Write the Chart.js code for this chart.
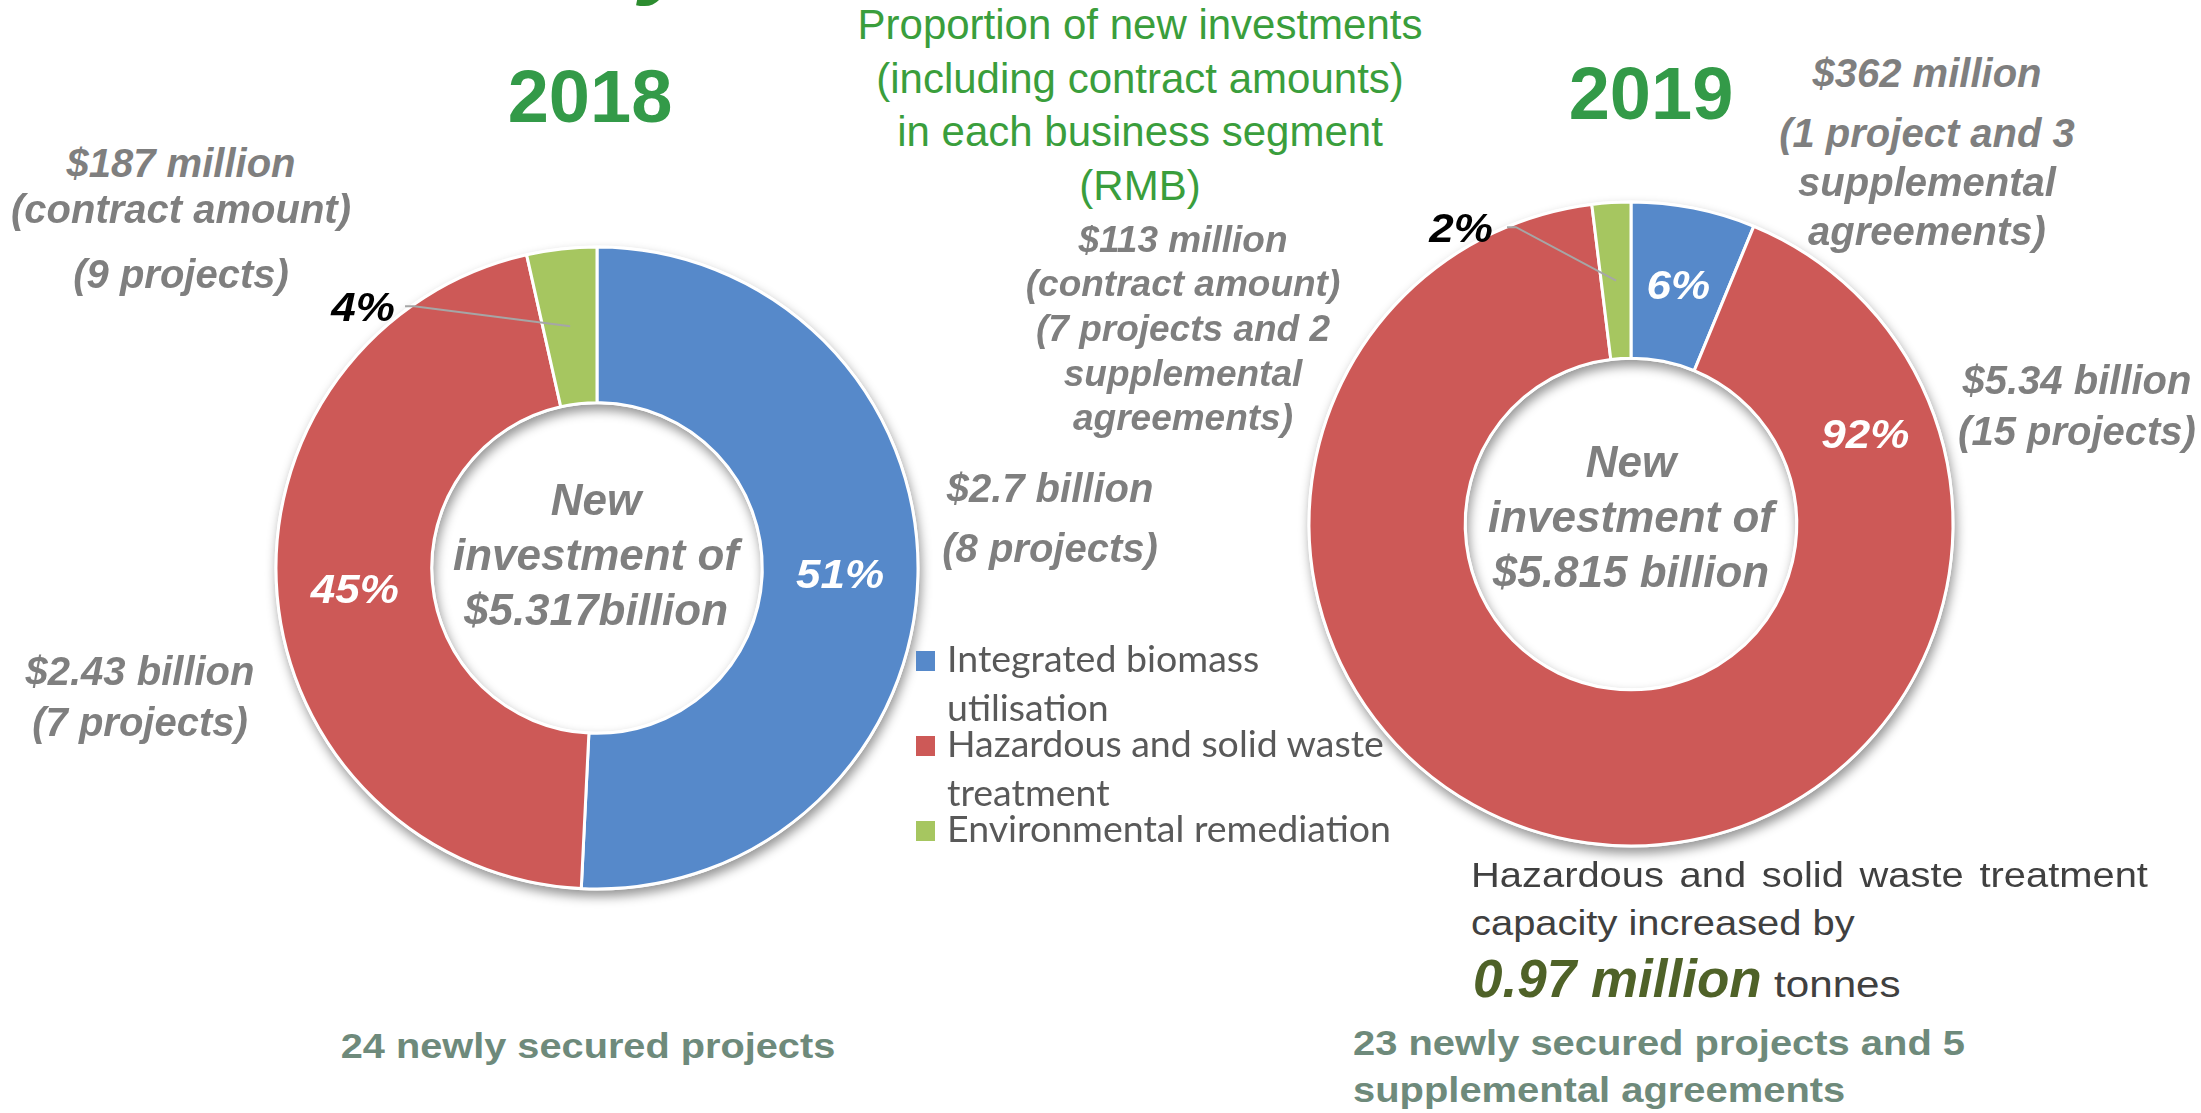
<!DOCTYPE html>
<html>
<head>
<meta charset="utf-8">
<script src="https://cdn.jsdelivr.net/npm/chart.js@4.4.1/dist/chart.umd.min.js"></script>
<style>
  html, body { margin: 0; padding: 0; background: #fff; }
  #stage { position: relative; width: 2201px; height: 1113px; overflow: hidden;
           font-family: "Liberation Sans", Arial, sans-serif; }
  #stage canvas { position: absolute; }
  .t { position: absolute; white-space: nowrap; line-height: 1; z-index: 2; }
  .sq { position: absolute; width: 19px; height: 20px; z-index: 2; }
</style>
</head>
<body>
<div id="stage">
  <canvas id="c2018" width="720" height="720" style="left:237px;top:208px"></canvas>
  <canvas id="c2019" width="720" height="720" style="left:1271px;top:164px"></canvas>
</div>
<script>
// business segments, same order in both years
const segments = ['Integrated biomass utilisation', 'Hazardous and solid waste treatment', 'Environmental remediation'];
const segmentColors = ['#5689CA', '#CD5957', '#A6C660'];

// new investment, RMB billion
const invest2018 = [2.7, 2.43, 0.187];
const invest2019 = [0.362, 5.34, 0.113];

// percentage labels as printed on the chart
const share2018 = ['51%', '45%', '4%'];
const share2019 = ['6%', '92%', '2%'];

const amount2018 = ['$2.7 billion', '$2.43 billion', '$187 million'];
const amount2019 = ['$362 million', '$5.34 billion', '$113 million'];
const projects2018 = [['(8 projects)'], ['(7 projects)'], ['(contract amount)', '(9 projects)']];
const projects2019 = [['(1 project and 3', 'supplemental', 'agreements)'], ['(15 projects)'],
                      ['(contract amount)', '(7 projects and 2', 'supplemental', 'agreements)']];

const totals = ['$5.317billion', '$5.815 billion'];
const years = ['2018', '2019'];

const stage = document.getElementById('stage');
const ARIAL = '"Liberation Sans", Arial, sans-serif';
const GRAY = '#7F7F7F';

function addText(str, x, base, o) {
  const el = document.createElement('div');
  el.className = 't';
  el.textContent = str;
  el.style.fontSize = o.size + 'px';
  el.style.fontWeight = o.bold ? 'bold' : 'normal';
  el.style.fontStyle = o.italic ? 'italic' : 'normal';
  el.style.color = o.color || '#000';
  el.style.fontFamily = o.font || ARIAL;
  el.style.top = (base - (o.asc || 0.8465) * o.size) + 'px';
  el.style.left = x + 'px';
  const sx = o.sx || 1;
  if ((o.align || 'center') === 'center') {
    el.style.transformOrigin = 'center';
    el.style.transform = 'translateX(-50%) scaleX(' + sx + ')';
  } else {
    el.style.transformOrigin = 'left';
    el.style.transform = 'scaleX(' + sx + ')';
  }
  stage.appendChild(el);
  return el;
}

// white ring with soft shadow under the doughnut
const ringShadow = {
  id: 'ringShadow',
  beforeDatasetsDraw(chart) {
    const a = chart.getDatasetMeta(0).data[0];
    if (!a) return;
    const ctx = chart.ctx;
    ctx.save();
    ctx.beginPath();
    ctx.arc(a.x, a.y, a.outerRadius + 1.5, 0, Math.PI * 2);
    ctx.arc(a.x, a.y, a.innerRadius - 1.5, 0, Math.PI * 2, true);
    ctx.fillStyle = '#fff';
    ctx.shadowColor = 'rgba(0,0,0,0.42)';
    ctx.shadowBlur = 11;
    ctx.shadowOffsetX = 2;
    ctx.shadowOffsetY = 6;
    ctx.fill();
    ctx.restore();
  }
};

// percentage labels, either on the slice or outside with a leader line
const sliceLabels = {
  id: 'sliceLabels',
  afterDatasetsDraw(chart, args, opts) {
    const ctx = chart.ctx;
    const size = 40;
    chart.getDatasetMeta(0).data.forEach((arc, i) => {
      const p = opts.place[i];
      const mid = arc.getCenterPoint();
      let x = mid.x, y = mid.y;
      if (p) {
        const ang = (p.angle - 90) * Math.PI / 180;
        x = arc.x + p.r * Math.cos(ang);
        y = arc.y + p.r * Math.sin(ang);
      }
      if (p && p.leader) {
        ctx.save();
        ctx.strokeStyle = '#A6A6A6';
        ctx.lineWidth = 2;
        ctx.beginPath();
        ctx.moveTo(x + p.leader, y);
        ctx.lineTo(x + p.leader + 9, y);
        ctx.lineTo(mid.x, mid.y);
        ctx.stroke();
        ctx.restore();
      }
      ctx.save();
      ctx.font = 'italic bold ' + size + 'px ' + ARIAL;
      ctx.fillStyle = opts.colors[i];
      ctx.textAlign = 'center';
      ctx.textBaseline = 'alphabetic';
      ctx.translate(x, y + 0.36 * size);
      ctx.scale(1.1, 1);
      ctx.fillText(opts.texts[i], 0, 0);
      ctx.restore();
    });
  }
};

function makeDoughnut(id, values, radius, labelOpts) {
  return new Chart(document.getElementById(id), {
    type: 'doughnut',
    data: {
      labels: segments,
      datasets: [{
        data: values,
        backgroundColor: segmentColors,
        borderColor: '#ffffff',
        borderWidth: 3,
        hoverOffset: 0
      }]
    },
    options: {
      responsive: false,
      animation: false,
      events: [],
      devicePixelRatio: 1,
      radius: radius,
      cutout: '51.5%',
      rotation: 0,
      plugins: {
        legend: { display: false },
        tooltip: { enabled: false },
        sliceLabels: labelOpts
      }
    },
    plugins: [ringShadow, sliceLabels]
  });
}

makeDoughnut('c2018', invest2018, 321, {
  texts: share2018,
  colors: ['#fff', '#fff', '#000'],
  place: [null, null, { angle: 318.2, r: 351, leader: 42 }]
});
makeDoughnut('c2019', invest2019, 322, {
  texts: share2019,
  colors: ['#fff', '#fff', '#000'],
  place: [null, { angle: 69, r: 251 }, { angle: 330.2, r: 342, leader: 46 }]
});

// partial title glyph cut off at the top edge
addText('y', 668, -15, { size: 100, bold: true, italic: true, color: '#2C8C2F' });

// headings
const green = '#3A9E3C';
['Proportion of new investments', '(including contract amounts)', 'in each business segment', '(RMB)']
  .forEach((s, i) => addText(s, 1140, 40 + i * 53.5, { size: 42, color: green }));
addText(years[0], 590, 123, { size: 74, bold: true, color: '#339A48' });
addText(years[1], 1651, 120, { size: 74, bold: true, color: '#339A48' });

// centre texts
const centre = (x, b, total) => {
  addText('New', x, b, { size: 44, bold: true, italic: true, color: GRAY });
  addText('investment of', x, b + 55, { size: 44, bold: true, italic: true, color: GRAY });
  addText(total, x, b + 110, { size: 44, bold: true, italic: true, color: GRAY });
};
centre(596, 515, totals[0]);
centre(1631, 477, totals[1]);

// amount callouts
const callout = (lines, x, bases, size) =>
  lines.forEach((s, i) => addText(s, x, bases[i], { size: size || 40, bold: true, italic: true, color: GRAY }));

callout([amount2018[2]].concat(projects2018[2]), 181, [177, 223, 288]);
callout([amount2018[0]].concat(projects2018[0]), 1050, [502, 562]);
callout([amount2018[1]].concat(projects2018[1]), 140, [685, 736]);
callout([amount2019[2]].concat(projects2019[2]), 1183, [252, 296, 341, 386, 430], 37);
callout([amount2019[0]].concat(projects2019[0]), 1927, [87, 147, 196, 245]);
callout([amount2019[1]].concat(projects2019[1]), 2077, [394, 445]);

// legend (wrapped like the original)
const LEG_FONT = 'Lato, "Open Sans", sans-serif';
const legSize = 37.5;
const meas = document.createElement('canvas').getContext('2d');
meas.font = legSize + 'px Lato';
function wrap(text, width) {
  const out = [];
  let line = '';
  text.split(' ').forEach(w => {
    const tryLine = line ? line + ' ' + w : w;
    if (meas.measureText(tryLine).width > width && line) { out.push(line); line = w; }
    else line = tryLine;
  });
  out.push(line);
  return out;
}
let legBase = 672;
segments.forEach((name, i) => {
  const sq = document.createElement('div');
  sq.className = 'sq';
  sq.style.left = '916px';
  sq.style.top = (legBase - 21) + 'px';
  sq.style.background = segmentColors[i];
  stage.appendChild(sq);
  const lines = wrap(name, 480);
  lines.forEach((s, j) => addText(s, 947, legBase + j * 49,
    { size: legSize, color: '#595959', font: LEG_FONT, align: 'left', asc: 0.887 }));
  legBase += (lines.length - 1) * 49 + 36;
});

// capacity note, first line justified
const sx = 1.14;
const just = document.createElement('div');
just.className = 't';
just.style.cssText += 'display:flex;justify-content:space-between;left:1471px;transform-origin:left;' +
  'font-size:35px;color:#404040;font-family:' + ARIAL + ';';
just.style.width = (677 / sx) + 'px';
just.style.top = (887 - 0.8465 * 35) + 'px';
just.style.transform = 'scaleX(' + sx + ')';
'Hazardous and solid waste treatment'.split(' ').forEach(w => {
  const s = document.createElement('span'); s.textContent = w; just.appendChild(s);
});
stage.appendChild(just);
addText('capacity increased by', 1471, 935, { size: 35, color: '#404040', align: 'left', sx: sx });
addText('0.97 million', 1473, 997, { size: 53, bold: true, italic: true, color: '#4F6228', align: 'left' });
addText('tonnes', 1774, 997, { size: 37, color: '#404040', align: 'left', sx: 1.14 });

// project counts
const note = '#6E8A7B';
addText('24 newly secured projects', 588, 1058, { size: 35, bold: true, color: note, sx: 1.135 });
addText('23 newly secured projects and 5', 1353, 1055, { size: 35, bold: true, color: note, align: 'left', sx: 1.14 });
addText('supplemental agreements', 1353, 1102, { size: 35, bold: true, color: note, align: 'left', sx: 1.14 });
</script>
</body>
</html>
